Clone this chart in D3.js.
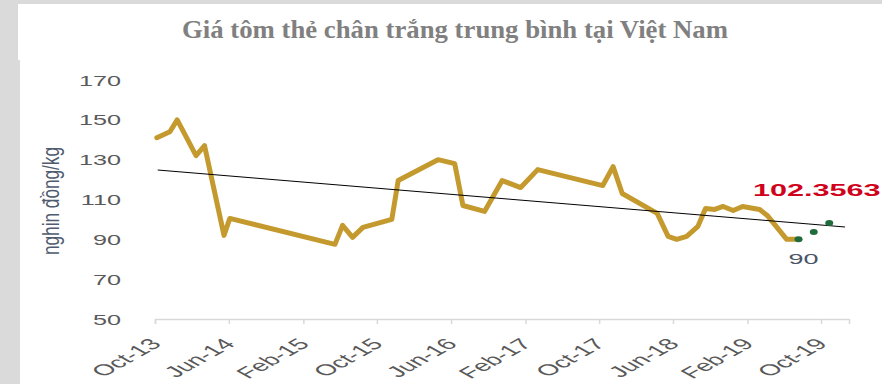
<!DOCTYPE html>
<html><head><meta charset="utf-8">
<script src="https://cdn.jsdelivr.net/npm/d3@7"></script>
<style>
html,body{margin:0;padding:0;background:#dadada;}
svg{display:block;}
</style></head>
<body>
<svg id="c" width="882" height="384"></svg>
<script>
// ---- data ----
const title = "Giá tôm thẻ chân trắng trung bình tại Việt Nam";
const yTitle = "nghin đồng/kg";
const dates = ["2013-10-07","2013-11-19","2013-12-13","2014-02-13","2014-03-13","2014-05-16","2014-06-04",
  "2015-05-16","2015-06-10","2015-07-13","2015-08-16","2015-11-19","2015-12-10","2016-04-19","2016-06-13",
  "2016-07-10","2016-09-19","2016-11-16","2017-01-16","2017-03-13","2017-10-13","2017-11-16","2017-12-16",
  "2018-04-10","2018-05-16","2018-06-13","2018-07-16","2018-08-22","2018-09-16","2018-10-16","2018-11-13",
  "2018-12-16","2019-01-16","2019-03-13","2019-04-07","2019-06-10","2019-07-16"];
const prices = [141,144,150,132,137,92,100.5,
  87.5,97,91,96,100,119.5,130,128,
  107,104,119.5,116,125,117,126.5,113,
  103,91.5,90,91.5,96.5,105.5,105,106.5,
  104.5,106.5,105,102,90,90];
const forecastDates = ["2019-07-19","2019-09-07","2019-10-28"];
const forecastValues = [90,93.7,98.2];
const trendDates = ["2013-10-10","2019-12-19"];
const trendValues = [124.8,96.2];
const xTickLabels = ["Oct-13","Jun-14","Feb-15","Oct-15","Jun-16","Feb-17","Oct-17","Jun-18","Feb-19","Oct-19"];
const yTicks = [50,70,90,110,130,150,170];
const forecastLabel = "102.3563";
const lastLabel = "90";

const parse = d3.timeParse("%Y-%m-%d");
const parseTick = d3.timeParse("%b-%y");
const SX = 1.8; // horizontal stretch of chart text

const svg = d3.select("#c");
// panels
svg.append("rect").attr("x",18).attr("y",4).attr("width",864).attr("height",56).attr("fill","#fff");
svg.append("rect").attr("x",20).attr("y",59).attr("width",862).attr("height",325).attr("fill","#fff");

svg.append("text").attr("x",455).attr("y",38).attr("text-anchor","middle")
  .attr("font-family","'Liberation Serif','Times New Roman',serif").attr("font-weight","bold")
  .attr("font-size",25).attr("fill","#808080")
  .attr("textLength",546).attr("lengthAdjust","spacingAndGlyphs").text(title);

const x = d3.scaleTime().domain([new Date(2013,9,1), new Date(2020,0,1)]).range([155,849]);
const y = d3.scaleLinear().domain([50,170]).range([319,80]);

// x axis
const xa = svg.append("g").attr("transform","translate(0,319)")
  .call(d3.axisBottom(x).tickValues(xTickLabels.map(parseTick)).tickSize(5).tickFormat(d3.timeFormat("%b-%y")));
xa.select(".domain").attr("stroke","#d9d9d9").attr("stroke-width",1.5);
xa.selectAll(".tick line").attr("stroke","#d9d9d9").attr("stroke-width",1.5);
xa.selectAll(".tick text")
  .attr("x",0).attr("y",0).attr("dy","0.35em")
  .attr("text-anchor","end")
  .attr("transform","translate(0,22) scale("+SX+",1) rotate(-45)")
  .attr("font-family","'Liberation Sans',Arial,sans-serif").attr("font-size",15.5).attr("fill","#595959");

// y axis
const ya = svg.append("g").attr("transform","translate(121,0)")
  .call(d3.axisLeft(y).tickValues(yTicks).tickSize(0).tickPadding(0));
ya.select(".domain").remove();
ya.selectAll(".tick text")
  .attr("x",0).attr("dy","0.36em").attr("text-anchor","end")
  .attr("transform","scale("+SX+",1)")
  .attr("font-family","'Liberation Sans',Arial,sans-serif").attr("font-size",14).attr("fill","#595959");

// y title
svg.append("text").attr("transform","translate(59,201) scale("+SX+",1) rotate(-90)")
  .attr("text-anchor","middle")
  .attr("font-family","'Liberation Sans',Arial,sans-serif").attr("font-size",13).attr("fill","#4f5b6e")
  .attr("textLength",108).attr("lengthAdjust","spacingAndGlyphs").text(yTitle);

// price line
const pts = dates.map((d,i)=>[parse(d),prices[i]]);
svg.append("path").datum(pts)
  .attr("d",d3.line().x(d=>x(d[0])).y(d=>y(d[1])))
  .attr("fill","none").attr("stroke","#c49a2f").attr("stroke-width",5)
  .attr("stroke-linejoin","round").attr("stroke-linecap","round");

// trend line
const tr = trendDates.map((d,i)=>[parse(d),trendValues[i]]);
svg.append("path").datum(tr)
  .attr("d",d3.line().x(d=>x(d[0])).y(d=>y(d[1])))
  .attr("fill","none").attr("stroke","#000").attr("stroke-width",1);

// forecast dots
const fc = forecastDates.map((d,i)=>[parse(d),forecastValues[i]]);
svg.selectAll("ellipse.f").data(fc).enter().append("ellipse").attr("class","f")
  .attr("cx",d=>x(d[0])).attr("cy",d=>y(d[1])).attr("rx",4).attr("ry",3)
  .attr("fill","#1f6b3c");

// labels
svg.append("text").attr("transform","translate(753,196) scale("+SX+",1)")
  .attr("font-family","'Liberation Sans',Arial,sans-serif").attr("font-weight","bold")
  .attr("font-size",17).attr("fill","#d0021b").text(forecastLabel);
svg.append("text").attr("transform","translate("+(x(fc[0][0])+5)+","+(y(forecastValues[0])+25)+") scale("+SX+",1)")
  .attr("text-anchor","middle")
  .attr("font-family","'Liberation Sans',Arial,sans-serif")
  .attr("font-size",15).attr("fill","#4a5568").text(lastLabel);
</script>
</body></html>
